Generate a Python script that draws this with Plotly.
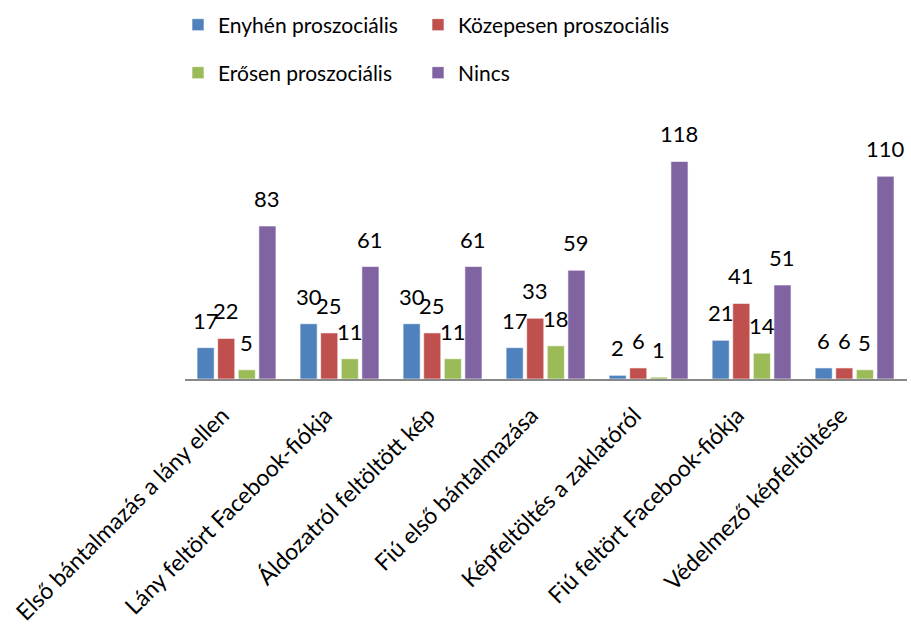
import plotly.graph_objects as go

categories = [
    "Első bántalmazás a lány ellen",
    "Lány feltört Facebook-fiókja",
    "Áldozatról feltöltött kép",
    "Fiú első bántalmazása",
    "Képfeltöltés a zaklatóról",
    "Fiú feltört Facebook-fiókja",
    "Védelmező képfeltöltése",
]
series_names = ["Enyhén proszociális", "Közepesen proszociális", "Erősen proszociális", "Nincs"]
enyhen = [17, 30, 30, 17, 2, 21, 6]
kozepesen = [22, 25, 25, 33, 6, 41, 6]
erosen = [5, 11, 11, 18, 1, 14, 5]
nincs = [83, 61, 61, 59, 118, 51, 110]
values = [enyhen, kozepesen, erosen, nincs]
colors = ["#4F81BD", "#C0504D", "#9BBB59", "#8064A2"]

FONT = "Lato"
FS = 22
BARGAP = 0.2
n_series = len(values)
legend_ids = ["legend", "legend2", "legend3", "legend4"]

fig = go.Figure()
for k, (name, vals, col) in enumerate(zip(series_names, values, colors)):
    fig.add_trace(go.Bar(
        name=name, x=categories, y=vals, showlegend=True,
        marker=dict(color=col, line=dict(color="rgba(255,255,255,0.6)", width=1)),
        legend=legend_ids[k],
    ))

slot = (1 - BARGAP) / n_series
for k, vals in enumerate(values):
    off = (k - (n_series - 1) / 2) * slot
    for i, v in enumerate(vals):
        fig.add_annotation(x=i + off, y=v, text=str(v), showarrow=False,
                           yanchor="bottom", yshift=12,
                           font=dict(family=FONT, size=FS, color="#000"))

leg_x = [178 / 911, 418 / 911, 178 / 911, 418 / 911]
leg_y = [1 - 25 / 635, 1 - 25 / 635, 1 - 73 / 635, 1 - 73 / 635]
legends = {}
for k, lid in enumerate(legend_ids):
    legends[lid] = dict(orientation="h", xref="container", yref="container",
                        x=leg_x[k], y=leg_y[k], xanchor="left", yanchor="middle",
                        bgcolor="rgba(0,0,0,0)", visible=True,
                        font=dict(family=FONT, size=21, color="#000"))

fig.update_layout(
    width=911, height=635, showlegend=True,
    margin=dict(l=185, r=4, t=120, b=256),
    paper_bgcolor="white", plot_bgcolor="white",
    barmode="group", bargap=BARGAP, bargroupgap=0.17,
    font=dict(family=FONT, size=FS, color="#000"),
    xaxis=dict(showline=True, linecolor="#888888", linewidth=2, tickangle=-45,
               ticks="", showgrid=False, automargin=False,
               ticklabelstandoff=12, ticklabelshift=-14,
               tickfont=dict(family=FONT, size=23, color="#000")),
    yaxis=dict(visible=False, range=[0, 140.5], automargin=False),
    **legends,
)

fig.write_html("out.html", config={"displayModeBar": False},
               post_script="document.body.style.margin='0';document.body.style.padding='0';")
